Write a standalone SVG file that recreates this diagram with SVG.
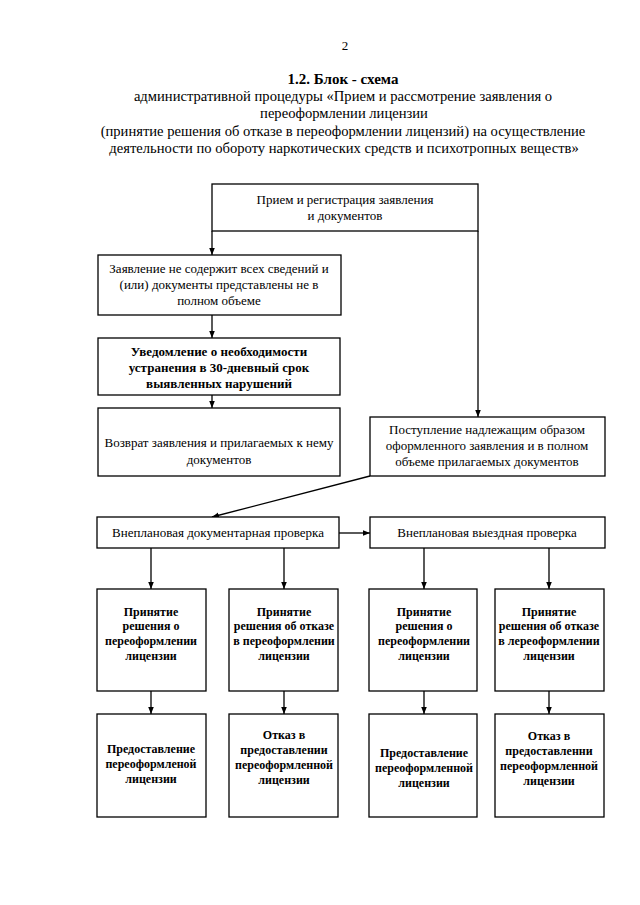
<svg xmlns="http://www.w3.org/2000/svg" width="640" height="905" viewBox="0 0 640 905">
<defs>
<style>
text{font-family:"Liberation Serif","DejaVu Serif","Times New Roman",serif;fill:#000;text-anchor:middle}
.h{font-size:14.6px}
.hb{font-size:15px;font-weight:bold}
.t{font-size:13px}
.b{font-size:13px;font-weight:bold}
.s{font-size:12px;font-weight:bold}
rect{fill:#fff;stroke:#000;stroke-width:1.3}
.c path{fill:none;stroke:#000;stroke-width:1.3}
</style>
<marker id="ah" viewBox="0 0 10 10" refX="10" refY="5" markerWidth="7" markerHeight="7" markerUnits="userSpaceOnUse" orient="auto">
<path d="M0,1 L10,5 L0,9 Z" fill="#000"/>
</marker>
</defs>
<rect x="0" y="0" width="640" height="905" style="fill:#fff;stroke:none"/>
<g id="header">
<text class="t" x="345" y="50">2</text>
<text class="hb" x="343" y="84">1.2. Блок - схема</text>
<text class="h" x="343" y="101">административной процедуры «Прием и рассмотрение заявления о</text>
<text class="h" x="344" y="118">переоформлении лицензии</text>
<text class="h" x="343" y="136">(принятие решения об отказе в переоформлении лицензий) на осуществление</text>
<text class="h" x="344" y="153">деятельности по обороту наркотических средств и психотропных веществ»</text>
</g>
<g class="c" id="connectors">
<path d="M212,231 V255" marker-end="url(#ah)"/>
<path d="M478,231 V417" marker-end="url(#ah)"/>
<path d="M212,315 V338" marker-end="url(#ah)"/>
<path d="M212,395 V408" marker-end="url(#ah)"/>
<path d="M370,476 L212,517" marker-end="url(#ah)"/>
<path d="M339,533 H370" marker-end="url(#ah)"/>
<path d="M151,548 V589" marker-end="url(#ah)"/>
<path d="M284,548 V589" marker-end="url(#ah)"/>
<path d="M424,548 V589" marker-end="url(#ah)"/>
<path d="M549,548 V589" marker-end="url(#ah)"/>
<path d="M151,691 V714" marker-end="url(#ah)"/>
<path d="M284,691 V714" marker-end="url(#ah)"/>
<path d="M424,691 V714" marker-end="url(#ah)"/>
<path d="M549,691 V714" marker-end="url(#ah)"/>
</g>
<g id="n1"><rect x="212" y="184" width="266" height="47"/>
<text class="t" x="345" y="204">Прием и регистрация заявления</text>
<text class="t" x="345" y="220">и документов</text></g>
<g id="n2"><rect x="98" y="255" width="243" height="60"/>
<text class="t" x="219" y="273">Заявление не содержит всех сведений и</text>
<text class="t" x="219" y="289">(или) документы представлены не в</text>
<text class="t" x="219" y="305">полном объеме</text></g>
<g id="n3"><rect x="98" y="338" width="242" height="57"/>
<text class="b" x="219" y="356">Уведомление о необходимости</text>
<text class="b" x="219" y="372">устранения в 30-дневный срок</text>
<text class="b" x="219" y="388">выявленных нарушений</text></g>
<g id="n4"><rect x="98" y="408" width="242" height="68"/>
<text class="t" x="219" y="447">Возврат заявления и прилагаемых к нему</text>
<text class="t" x="219" y="464">документов</text></g>
<g id="n5"><rect x="370" y="417" width="235" height="59"/>
<text class="t" x="487" y="434">Поступление надлежащим образом</text>
<text class="t" x="487" y="450">оформленного заявления и в полном</text>
<text class="t" x="487" y="466">объеме прилагаемых документов</text></g>
<g id="n6"><rect x="97" y="517" width="242" height="31"/>
<text class="t" x="218" y="537">Внеплановая документарная проверка</text></g>
<g id="n7"><rect x="370" y="517" width="235" height="31"/>
<text class="t" x="487" y="537">Внеплановая выездная проверка</text></g>
<g id="d1"><rect x="97" y="589" width="109" height="102"/>
<text class="s" x="151" y="616">Принятие</text>
<text class="s" x="151" y="630">решения о</text>
<text class="s" x="151" y="645">переоформлении</text>
<text class="s" x="151" y="660">лицензии</text></g>
<g id="d2"><rect x="229" y="589" width="109" height="102"/>
<text class="s" x="284" y="616">Принятие</text>
<text class="s" x="284" y="630">решения об отказе</text>
<text class="s" x="284" y="645">в переоформлении</text>
<text class="s" x="284" y="660">лицензии</text></g>
<g id="d3"><rect x="369" y="589" width="108" height="102"/>
<text class="s" x="424" y="616">Принятие</text>
<text class="s" x="424" y="630">решения о</text>
<text class="s" x="424" y="645">переоформлении</text>
<text class="s" x="424" y="660">лицензии</text></g>
<g id="d4"><rect x="495" y="589" width="109" height="102"/>
<text class="s" x="549" y="616">Принятие</text>
<text class="s" x="549" y="630">решения об отказе</text>
<text class="s" x="549" y="645">в лереоформлении</text>
<text class="s" x="549" y="660">лицензии</text></g>
<g id="r1"><rect x="97" y="714" width="109" height="103"/>
<text class="s" x="151" y="753">Предоставление</text>
<text class="s" x="151" y="768">переоформленой</text>
<text class="s" x="151" y="783">лицензии</text></g>
<g id="r2"><rect x="229" y="714" width="109" height="103"/>
<text class="s" x="284" y="739">Отказ в</text>
<text class="s" x="284" y="754">предоставлении</text>
<text class="s" x="284" y="769">переоформленной</text>
<text class="s" x="284" y="784">лицензии</text></g>
<g id="r3"><rect x="369" y="714" width="108" height="103"/>
<text class="s" x="424" y="757">Предоставление</text>
<text class="s" x="424" y="772">переоформленной</text>
<text class="s" x="424" y="787">лицензии</text></g>
<g id="r4"><rect x="495" y="714" width="109" height="103"/>
<text class="s" x="549" y="740">Отказ в</text>
<text class="s" x="549" y="755">предоставленни</text>
<text class="s" x="549" y="770">переоформленной</text>
<text class="s" x="549" y="785">лицензии</text></g>
</svg>
